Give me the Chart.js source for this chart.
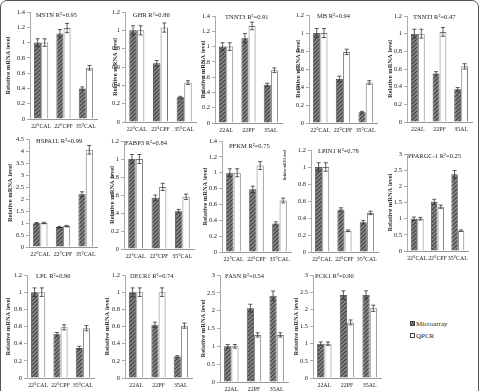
<!DOCTYPE html>
<html><head><meta charset="utf-8">
<script src="https://cdn.jsdelivr.net/npm/chart.js@4"></script>
<style>
html,body{margin:0;padding:0;background:#fff;}
body{width:482px;height:391px;position:relative;overflow:hidden;font-family:"Liberation Serif",serif;}
#frame{position:absolute;left:0;top:0;width:477px;height:400px;border:1.5px solid #555;border-radius:7px;}
canvas{position:absolute;}
.leg{position:absolute;font-size:7px;color:#222;line-height:8px;white-space:nowrap;}
.sw{display:inline-block;width:3px;height:3px;border:1px solid #444;margin-right:1px;vertical-align:middle;position:relative;top:-1px;}
.sw.m{background:repeating-linear-gradient(45deg,#3c3c3c 0 1px,#888 1px 2.5px);}
.sw.q{background:#fff;}
</style></head><body>
<div id="frame"></div>
<div class="leg" style="left:410px;top:320px"><span class="sw m"></span>Microarray</div>
<div class="leg" style="left:410px;top:332px"><span class="sw q"></span>QPCR</div>
<script>
// ---------- data ----------
const genes = ['MSTN','GHR','TNNT3','MB','TNNTI','HSPA1L','FABP3','PFKM','LPIN1','PPARGC-1','LPL','DECR1','FASN','PCK1'];
const r2 = ['0.95','0.86','0.91','0.94','0.47','0.99','0.84','0.75','0.78','0.25','0.96','0.74','0.54','0.90'];
const temperatureLabels = ['22°CAL','22°CPF','35°CAL'];
const shortLabels = ['22AL','22PF','35AL'];
const labelSetOfGene = [0,0,1,0,1,0,0,0,0,0,0,1,1,1];
const yMax = [1.4,1.2,1.4,1.2,1.2,4.5,1.2,1.4,1.2,3,1.2,1.2,3,3];
const yStep = [0.2,0.2,0.2,0.2,0.2,0.5,0.2,0.2,0.2,0.5,0.2,0.2,0.5,0.5];
const microarray = [[1.00,1.12,0.40],[1.00,0.64,0.27],[1.00,1.11,0.50],[1.00,0.49,0.12],[1.00,0.55,0.37],[0.99,0.83,2.20],[1.00,0.57,0.42],[1.00,0.79,0.36],[1.00,0.50,0.35],[1.00,1.52,2.37],[1.00,0.51,0.35],[1.00,0.62,0.25],[1.00,2.07,2.42],[1.00,2.42,2.42]];
const microarrayErr = [[0.05,0.05,0.02],[0.05,0.03,0.01],[0.05,0.06,0.02],[0.05,0.03,0.01],[0.05,0.02,0.02],[0.03,0.03,0.10],[0.05,0.03,0.02],[0.05,0.04,0.02],[0.05,0.02,0.02],[0.05,0.08,0.12],[0.05,0.02,0.02],[0.05,0.03,0.01],[0.05,0.11,0.13],[0.05,0.12,0.12]];
const qpcr = [[1.00,1.19,0.67],[1.00,1.03,0.43],[1.00,1.27,0.69],[1.00,0.79,0.45],[1.00,1.02,0.63],[1.00,0.87,4.05],[1.00,0.69,0.58],[1.00,1.09,0.65],[1.00,0.25,0.46],[1.00,1.37,0.63],[1.00,0.59,0.58],[1.00,1.00,0.61],[1.00,1.32,1.32],[1.00,1.62,2.03]];
const qpcrErr = [[0.05,0.06,0.03],[0.05,0.05,0.02],[0.05,0.05,0.03],[0.05,0.03,0.02],[0.05,0.05,0.03],[0.03,0.03,0.18],[0.05,0.04,0.03],[0.05,0.05,0.03],[0.05,0.01,0.02],[0.04,0.05,0.02],[0.05,0.03,0.03],[0.05,0.05,0.03],[0.05,0.06,0.06],[0.05,0.07,0.09]];
const seriesNames = ['Microarray','QPCR'];
const yAxisTitle = 'Relative mRNA level';

// ---------- layout (pixel geometry only) ----------
// [plotLeft, plotRight, plotTop, plotBottom, yTitleX, titleDx, titleDy, yTitleSize]
const layout = [
  [30,97,12,119,8,6,3,6.5],
  [125,196,12,122,115,8,3,6.5],
  [215,282,16,123,203,10,1,6.5],
  [309,377,15,123,298,8,1,6.5],
  [407,472,16,122,390,6,1,6.5],
  [29,97,139,247,10,7,2,6.5],
  [124,194,141,249,112,1,2,6.5],
  [222,291,141,252,205,7,5,6.5],
  [311,378,150,252,287,7,1,3.4],
  [407,468,154,251,390,1,2,6.5],
  [27,94,275,378,8,9,1,6.5],
  [125,192,275,378,107,5,1,6.5],
  [220,288,275,382,203,5,1,6.5],
  [313,381,275,378,296,2,1,6.5]
];

Chart.defaults.font.family = '"Liberation Serif", "Times New Roman", serif';
Chart.defaults.color = '#333';

function makeHatch(){
  const c = document.createElement('canvas'); c.width = 4; c.height = 4;
  const x = c.getContext('2d');
  x.fillStyle = '#8a8a8a'; x.fillRect(0,0,4,4);
  x.strokeStyle = '#3a3a3a'; x.lineWidth = 1.1;
  x.beginPath(); x.moveTo(-1,5); x.lineTo(5,-1); x.moveTo(-1,1); x.lineTo(1,-1); x.moveTo(3,5); x.lineTo(5,3); x.stroke();
  return x.createPattern(c,'repeat');
}
const hatch = makeHatch();

const errorBars = {
  id:'errorBars',
  afterDatasetsDraw(chart){
    const ctx = chart.ctx, ys = chart.scales.y;
    chart.data.datasets.forEach((ds,di)=>{
      const meta = chart.getDatasetMeta(di);
      meta.data.forEach((bar,i)=>{
        const v = ds.data[i], e = ds.errors[i];
        const t = ys.getPixelForValue(v+e), b = ys.getPixelForValue(v-e);
        ctx.save(); ctx.strokeStyle = '#333'; ctx.lineWidth = 0.8;
        ctx.beginPath();
        ctx.moveTo(bar.x,t); ctx.lineTo(bar.x,b);
        ctx.moveTo(bar.x-2,t); ctx.lineTo(bar.x+2,t);
        ctx.moveTo(bar.x-2,b); ctx.lineTo(bar.x+2,b);
        ctx.stroke(); ctx.restore();
      });
    });
  }
};
const panelTitle = {
  id:'panelTitle',
  afterDraw(chart,args,opts){
    const ctx = chart.ctx, a = chart.chartArea;
    ctx.save(); ctx.font = '6.5px "Liberation Serif"'; ctx.fillStyle = '#222';
    ctx.textBaseline = 'middle'; ctx.textAlign = 'left';
    ctx.fillText(opts.text, a.left + opts.dx, a.top + opts.dy);
    ctx.restore();
  }
};

genes.forEach((g,i)=>{
  const [L,R,T,B,tx,dx,dy,yts] = layout[i];
  const cLeft = tx - 4, cTop = T - 6;
  const w = R - cLeft + 6, h = B - cTop + 16;
  const cv = document.createElement('canvas');
  cv.width = w; cv.height = h;
  cv.style.left = cLeft + 'px'; cv.style.top = cTop + 'px';
  cv.style.width = w + 'px'; cv.style.height = h + 'px';
  document.body.appendChild(cv);
  const labels = labelSetOfGene[i] === 0 ? temperatureLabels : shortLabels;
  new Chart(cv, {
    type:'bar',
    data:{
      labels,
      datasets:[
        {label:seriesNames[0], data:microarray[i], errors:microarrayErr[i], backgroundColor:hatch, borderColor:'#3a3a3a', borderWidth:0.8, categoryPercentage:0.64, barPercentage:0.98},
        {label:seriesNames[1], data:qpcr[i], errors:qpcrErr[i], backgroundColor:'#ffffff', borderColor:'#7a7a7a', borderWidth:1, categoryPercentage:0.64, barPercentage:0.98}
      ]
    },
    options:{
      responsive:false, animation:false, devicePixelRatio:1,
      layout:{padding:{top:6,right:6,left:0,bottom:0}},
      plugins:{legend:{display:false}, tooltip:{enabled:false}, title:{display:false},
        panelTitle:{text:g + ' R²=' + r2[i], dx, dy}},
      scales:{
        x:{
          grid:{display:false, drawTicks:false, tickLength:0}, border:{display:true,color:'#999',width:1},
          ticks:{font:{size:5.9}, color:'#222', maxRotation:0, minRotation:0, autoSkip:false, padding:4},
          afterFit:s=>{s.height = 16;}
        },
        y:{
          min:0, max:yMax[i],
          grid:{display:true, drawOnChartArea:false, drawTicks:true, tickLength:3, color:'#aaa'},
          border:{display:true, color:'#aaa', width:1},
          ticks:{stepSize:yStep[i], font:{size:6.5}, color:'#222', padding:2, callback:v=>String(+(+v).toFixed(2))},
          title:{display:true, text:yAxisTitle, font:{size:yts, weight:'bold'}, color:'#333', padding:0, align: yts < 5 ? 'end' : 'center'},
          afterFit:s=>{s.width = L - cLeft;}
        }
      }
    },
    plugins:[errorBars, panelTitle]
  });
});
</script>
</body></html>
